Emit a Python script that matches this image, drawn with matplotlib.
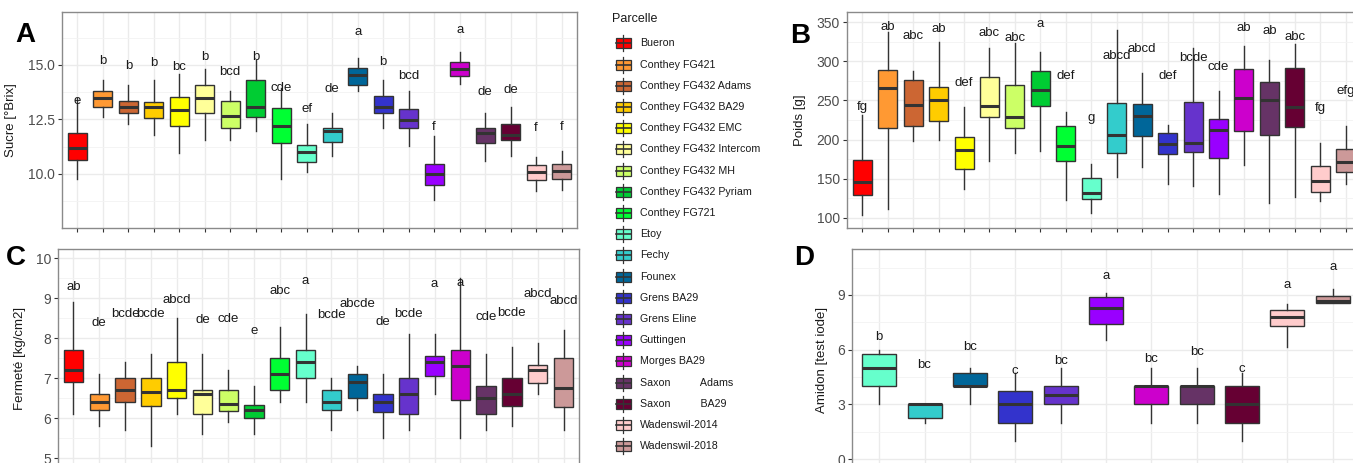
import numpy as np
import matplotlib
matplotlib.use("Agg")
import matplotlib.pyplot as plt
from matplotlib.patches import Rectangle
from matplotlib.lines import Line2D
from matplotlib.ticker import MultipleLocator, NullFormatter

plt.rcParams["font.family"] = ["Liberation Sans", "DejaVu Sans"]

W, H = 1353, 463
EDGE = "#333333"
GRID = "#EBEBEB"
GRID_MINOR = "#F3F3F3"

# ── data ────────────────────────────────────────────────────
parcelles = ["Bueron", "Conthey FG421", "Conthey FG432 Adams", "Conthey FG432 BA29",
             "Conthey FG432 EMC", "Conthey FG432 Intercom", "Conthey FG432 MH",
             "Conthey FG432 Pyriam", "Conthey FG721", "Etoy", "Fechy", "Founex",
             "Grens BA29", "Grens Eline", "Guttingen", "Morges BA29",
             "Saxon          Adams", "Saxon          BA29", "Wadenswil-2014", "Wadenswil-2018"]
colors = ["#FF0000", "#FF9933", "#CC6633", "#FFCC00", "#FFFF00", "#FFFF99", "#CCFF66",
          "#00CC33", "#00FF33", "#66FFCC", "#33CCCC", "#006699", "#3333CC", "#6633CC",
          "#9900FF", "#CC00CC", "#663366", "#660033", "#FFCCCC", "#CC9999"]

# A — Sucre [°Brix]
sucre_lo  = [9.79, 12.59, 12.29, 11.78, 10.97, 11.58, 11.58, 11.98, 9.79, 10.09,
             10.81, 13.82, 12.12, 11.30, 8.79, 14.11, 10.60, 10.81, 9.20, 9.28]
sucre_q1  = [10.63, 13.08, 12.78, 12.58, 12.22, 12.78, 12.09, 12.59, 11.43, 10.55,
             11.47, 14.10, 12.81, 12.09, 9.51, 14.48, 11.40, 11.56, 9.72, 9.77]
sucre_med = [11.20, 13.50, 13.05, 13.05, 12.94, 13.50, 12.68, 13.05, 12.21, 11.00,
             11.98, 14.52, 13.08, 12.47, 10.00, 14.82, 11.89, 11.79, 10.11, 10.15]
sucre_q3  = [11.86, 13.82, 13.36, 13.30, 13.51, 14.10, 13.34, 14.29, 13.02, 11.35,
             12.13, 14.85, 13.59, 12.99, 10.46, 15.15, 12.13, 12.29, 10.43, 10.46]
sucre_hi  = [13.50, 14.31, 14.08, 14.31, 14.59, 14.80, 13.80, 15.23, 13.96, 12.29,
             12.78, 15.31, 14.29, 13.80, 11.76, 15.60, 12.78, 13.08, 10.78, 11.06]
sucre_let = ["e", "b", "b", "b", "bc", "b", "bcd", "b", "cde", "ef",
             "de", "a", "b", "bcd", "f", "a", "de", "de", "f", "f"]
sucre_let_y = [13.34, 15.20, 14.97, 15.08, 14.92, 15.35, 14.69, 15.35, 13.93, 12.98,
               13.91, 16.49, 15.12, 14.48, 12.15, 16.61, 13.76, 13.87, 12.12, 12.15]

# B — Poids [g]
poids_lo  = [103.4, 110.7, 198.1, 199.4, 136.3, 172.1, 182.3, 185.3, 122.6, 106.4,
             152.5, 164.4, 143.1, 141.0, 130.3, 167.4, 118.3, 126.0, 120.9, 142.7]
poids_q1  = [129.0, 214.3, 217.3, 224.1, 161.9, 228.8, 214.3, 242.9, 172.9, 124.3,
             182.3, 204.5, 181.5, 184.5, 176.8, 211.3, 206.2, 216.5, 132.4, 158.9]
poids_med = [146.1, 266.4, 243.8, 250.2, 186.6, 242.9, 228.4, 263.0, 192.2, 131.1,
             205.8, 230.5, 193.9, 195.6, 212.2, 252.7, 250.6, 242.1, 146.5, 171.2]
poids_q3  = [173.8, 289.0, 275.8, 266.8, 202.8, 279.6, 269.4, 287.3, 217.3, 151.2,
             246.8, 245.5, 208.4, 248.0, 226.3, 289.8, 274.1, 292.0, 166.1, 187.5]
poids_hi  = [231.4, 338.0, 288.1, 325.3, 242.1, 316.7, 323.1, 312.5, 234.8, 168.7,
             340.2, 284.7, 218.2, 316.7, 262.1, 320.1, 301.8, 321.8, 196.0, 217.3]
poids_let = ["fg", "ab", "abc", "ab", "def", "abc", "abc", "a", "def", "g",
             "abcd", "abcd", "def", "bcde", "cde", "ab", "ab", "abc", "fg", "efg"]
poids_let_y = [241.2, 343.6, 332.5, 341.0, 272.8, 335.9, 330.4, 347.9, 281.3, 227.1,
               306.9, 315.9, 281.3, 303.9, 292.4, 343.2, 339.3, 331.7, 239.9, 262.5]

# C — Fermeté [kg/cm2]
ferm_lo  = [6.11, 5.81, 5.71, 5.31, 6.11, 5.61, 5.91, 5.61, 6.41, 6.41,
            5.71, 6.21, 5.51, 5.71, 6.61, 5.51, 5.71, 5.81, 6.61, 5.71]
ferm_q1  = [6.90, 6.20, 6.40, 6.31, 6.51, 6.11, 6.18, 6.00, 6.70, 7.01,
            6.20, 6.50, 6.15, 6.11, 7.06, 6.45, 6.11, 6.31, 6.88, 6.28]
ferm_med = [7.21, 6.40, 6.70, 6.65, 6.71, 6.61, 6.36, 6.21, 7.10, 7.40,
            6.41, 6.90, 6.40, 6.60, 7.40, 7.30, 6.51, 6.60, 7.20, 6.76]
ferm_q3  = [7.71, 6.61, 7.01, 7.01, 7.40, 6.71, 6.71, 6.33, 7.50, 7.71,
            6.70, 7.10, 6.60, 7.01, 7.56, 7.71, 6.81, 7.01, 7.33, 7.50]
ferm_hi  = [8.90, 7.10, 7.40, 7.60, 8.50, 7.60, 7.21, 6.81, 8.29, 8.60,
            7.00, 7.30, 7.10, 8.10, 8.10, 9.50, 7.60, 7.79, 7.89, 8.20]
ferm_let = ["ab", "de", "bcde", "bcde", "abcd", "de", "cde", "e", "abc", "a",
            "bcde", "abcde", "de", "bcde", "a", "a", "cde", "bcde", "abcd", "abcd"]
ferm_let_y = [9.28, 8.38, 8.60, 8.60, 8.96, 8.46, 8.48, 8.18, 9.18, 9.42,
              8.58, 8.86, 8.40, 8.60, 9.36, 9.38, 8.53, 8.63, 9.10, 8.94]

# D — Amidon [test iode], only Etoy .. Wadenswil-2018
amidon_idx = list(range(9, 20))
amidon_lo  = [3.02, 2.00, 3.00, 1.00, 2.01, 6.52, 2.00, 2.00, 1.00, 6.14, 8.54]
amidon_q1  = [4.00, 2.25, 4.00, 2.00, 3.02, 7.43, 3.00, 3.00, 2.00, 7.32, 8.54]
amidon_med = [5.02, 3.00, 4.00, 3.00, 3.51, 8.29, 4.00, 4.00, 3.00, 7.78, 8.69]
amidon_q3  = [5.75, 3.00, 4.75, 3.75, 4.02, 8.89, 4.02, 4.00, 4.00, 8.16, 8.93]
amidon_hi  = [5.99, 3.00, 5.00, 4.70, 4.99, 9.09, 4.99, 5.00, 4.70, 8.49, 9.31]
amidon_let = ["b", "bc", "bc", "c", "bc", "a", "bc", "bc", "c", "a", "a"]
amidon_let_y = [6.68, 5.17, 6.17, 4.84, 5.39, 10.06, 5.48, 5.90, 4.93, 9.55, 10.55]


fig = plt.figure(figsize=(W / 100, H / 100), dpi=100)


def px_axes(left, top, right, bottom):
    return fig.add_axes([left / W, 1 - bottom / H, (right - left) / W, (bottom - top) / H])


def draw_panel(ax, lo, q1, med, q3, hi, cols, letters, let_y, ylim, major, ylabel):
    n = len(med)
    stats = [dict(whislo=lo[i], q1=q1[i], med=med[i], q3=q3[i], whishi=hi[i], fliers=[])
             for i in range(n)]
    pos = np.arange(1, n + 1)
    bp = ax.bxp(stats, positions=pos, widths=0.75, patch_artist=True, showcaps=False,
                boxprops=dict(edgecolor=EDGE, linewidth=1.0),
                whiskerprops=dict(color=EDGE, linewidth=1.0),
                medianprops=dict(color=EDGE, linewidth=2.2, solid_capstyle="butt"),
                manage_ticks=False, zorder=3)
    for patch, c in zip(bp["boxes"], cols):
        patch.set_facecolor(c)
    for x, t, y in zip(pos, letters, let_y):
        ax.text(x, y, t, ha="center", va="center", fontsize=9.5, color="#1A1A1A", zorder=4)

    ax.set_xlim(0.4, n + 0.6)
    ax.set_ylim(*ylim)
    ax.set_xticks(pos)
    ax.xaxis.set_major_formatter(NullFormatter())
    ax.yaxis.set_major_locator(MultipleLocator(major))
    ax.yaxis.set_minor_locator(MultipleLocator(major / 2))
    ax.grid(True, which="major", color=GRID, linewidth=1.0, zorder=0)
    ax.grid(True, which="minor", axis="y", color=GRID_MINOR, linewidth=0.6, zorder=0)
    ax.set_axisbelow(True)
    ax.tick_params(axis="both", which="major", length=3, width=0.8, color=EDGE,
                   labelsize=10, labelcolor="#4D4D4D", pad=2)
    ax.tick_params(axis="y", which="minor", length=0)
    for s in ax.spines.values():
        s.set_color("#8A8A8A")
        s.set_linewidth(1.0)
    ax.set_ylabel(ylabel, fontsize=9.5, color="#1A1A1A", labelpad=3)


# A
axA = px_axes(62, 12, 577, 228)
draw_panel(axA, sucre_lo, sucre_q1, sucre_med, sucre_q3, sucre_hi, colors,
           sucre_let, sucre_let_y, (7.52, 17.43), 2.5, "Sucre [°Brix]")
axA.yaxis.set_major_formatter(matplotlib.ticker.FormatStrFormatter("%.1f"))
axA.yaxis.set_label_coords((17 - 62) / 515, 0.5)

# B
axB = px_axes(847, 12, 1361, 228)
draw_panel(axB, poids_lo, poids_q1, poids_med, poids_q3, poids_hi, colors,
           poids_let, poids_let_y, (86.8, 363.2), 50, "Poids [g]")
axB.yaxis.set_label_coords((806 - 847) / 514, 0.5)

# C
axC = px_axes(58, 249, 579, 466)
draw_panel(axC, ferm_lo, ferm_q1, ferm_med, ferm_q3, ferm_hi, colors,
           ferm_let, ferm_let_y, (4.81, 10.23), 1, "Fermeté [kg/cm2]")
axC.yaxis.set_label_coords((26 - 58) / 521, (466 - 358) / 217)

# D
axD = px_axes(852, 249, 1360, 466)
draw_panel(axD, amidon_lo, amidon_q1, amidon_med, amidon_q3, amidon_hi,
           [colors[i] for i in amidon_idx], amidon_let, amidon_let_y,
           (-0.37, 11.52), 3, "Amidon [test iode]")
axD.yaxis.set_label_coords((828 - 852) / 508, (466 - 360) / 217)

# panel tags
for tag, x, y in [("A", 25, 35), ("B", 800, 36), ("C", 16, 258), ("D", 804, 258)]:
    fig.text(x / W, 1 - y / H, tag, fontsize=20, fontweight="bold",
             ha="center", va="center", color="black")

# legend
lg = fig.add_axes([0, 0, 1, 1], zorder=-1)
lg.set_xlim(0, W)
lg.set_ylim(H, 0)
lg.axis("off")
lg.text(612, 19, "Parcelle", fontsize=9, ha="left", va="center", color="#1A1A1A")
for i, (name, c) in enumerate(zip(parcelles, colors)):
    yc = 43.3 + 21.2 * i
    lg.add_line(Line2D([623, 623], [yc - 8, yc + 8], color=EDGE, linewidth=0.9))
    lg.add_patch(Rectangle((615.5, yc - 5), 15, 10, facecolor=c, edgecolor=EDGE,
                           linewidth=0.9))
    lg.add_line(Line2D([615.5, 630.5], [yc, yc], color=EDGE, linewidth=1.2))
    lg.text(640, yc, name, fontsize=7.7, ha="left", va="center", color="#1A1A1A")

fig.savefig("out.png", dpi=100)
